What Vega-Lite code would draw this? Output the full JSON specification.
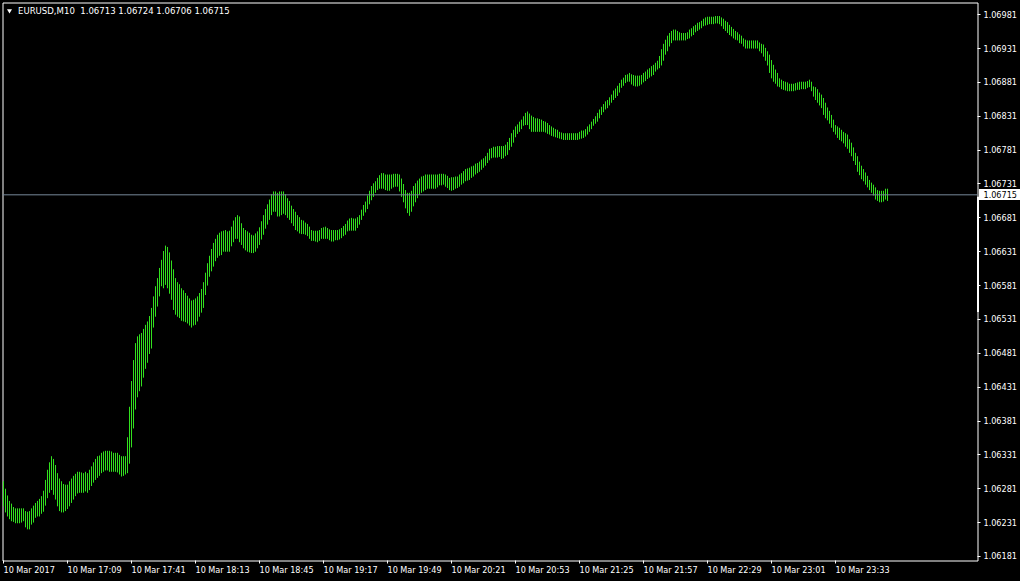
{
"$schema":"https://vega.github.io/schema/vega-lite/v6.json",
"width":975,"height":558,
"autosize":{"type":"none"},
"padding":{"left":2.5,"top":2.5,"right":42.5,"bottom":20.5},
"background":"#000000",
"resolve":{"axis":{"x":"independent","y":"independent"}},
"config":{
 "view":{"stroke":"#ffffff","strokeWidth":1,"fill":"#000000"},
 "axis":{"labelColor":"#ffffff","tickColor":"#ffffff","domain":false,"grid":false,"labelFont":"DejaVu Sans Condensed, DejaVu Sans, sans-serif","labelFontSize":9,"tickSize":3,"title":null,"translate":0,"labelOverlap":false,"labelBound":false,"labelFlush":false}
},
"layer":[
{
 "data":{"format":{"parse":{"t":"utc:'%H:%M'"}},"values":[
{"t":"16:37","lo":1.06255,"hi":1.06292},{"t":"16:38","lo":1.06246,"hi":1.06281},{"t":"16:39","lo":1.06240,"hi":1.06271},{"t":"16:40","lo":1.06236,"hi":1.06263},{"t":"16:41","lo":1.06233,"hi":1.06259},{"t":"16:42","lo":1.06232,"hi":1.06254},{"t":"16:43","lo":1.06230,"hi":1.06252},{"t":"16:44","lo":1.06230,"hi":1.06252},{"t":"16:45","lo":1.06230,"hi":1.06252},{"t":"16:46","lo":1.06231,"hi":1.06252},
{"t":"16:47","lo":1.06233,"hi":1.06252},{"t":"16:48","lo":1.06224,"hi":1.06248},{"t":"16:49","lo":1.06221,"hi":1.06247},{"t":"16:50","lo":1.06221,"hi":1.06248},{"t":"16:51","lo":1.06228,"hi":1.06252},{"t":"16:52","lo":1.06231,"hi":1.06256},{"t":"16:53","lo":1.06238,"hi":1.06260},{"t":"16:54","lo":1.06240,"hi":1.06263},{"t":"16:55","lo":1.06240,"hi":1.06266},{"t":"16:56","lo":1.06244,"hi":1.06270},
{"t":"16:57","lo":1.06247,"hi":1.06278},{"t":"16:58","lo":1.06256,"hi":1.06294},{"t":"16:59","lo":1.06267,"hi":1.06309},{"t":"17:00","lo":1.06275,"hi":1.06320},{"t":"17:01","lo":1.06279,"hi":1.06329},{"t":"17:02","lo":1.06272,"hi":1.06325},{"t":"17:03","lo":1.06265,"hi":1.06316},{"t":"17:04","lo":1.06255,"hi":1.06304},{"t":"17:05","lo":1.06248,"hi":1.06296},{"t":"17:06","lo":1.06246,"hi":1.06292},
{"t":"17:07","lo":1.06246,"hi":1.06288},{"t":"17:08","lo":1.06248,"hi":1.06287},{"t":"17:09","lo":1.06251,"hi":1.06287},{"t":"17:10","lo":1.06255,"hi":1.06292},{"t":"17:11","lo":1.06260,"hi":1.06296},{"t":"17:12","lo":1.06265,"hi":1.06300},{"t":"17:13","lo":1.06270,"hi":1.06303},{"t":"17:14","lo":1.06274,"hi":1.06306},{"t":"17:15","lo":1.06275,"hi":1.06306},{"t":"17:16","lo":1.06275,"hi":1.06305},
{"t":"17:17","lo":1.06275,"hi":1.06304},{"t":"17:18","lo":1.06277,"hi":1.06306},{"t":"17:19","lo":1.06275,"hi":1.06304},{"t":"17:20","lo":1.06279,"hi":1.06309},{"t":"17:21","lo":1.06285,"hi":1.06314},{"t":"17:22","lo":1.06290,"hi":1.06320},{"t":"17:23","lo":1.06294,"hi":1.06325},{"t":"17:24","lo":1.06297,"hi":1.06329},{"t":"17:25","lo":1.06300,"hi":1.06330},{"t":"17:26","lo":1.06304,"hi":1.06334},
{"t":"17:27","lo":1.06306,"hi":1.06336},{"t":"17:28","lo":1.06308,"hi":1.06337},{"t":"17:29","lo":1.06308,"hi":1.06337},{"t":"17:30","lo":1.06306,"hi":1.06337},{"t":"17:31","lo":1.06306,"hi":1.06336},{"t":"17:32","lo":1.06306,"hi":1.06334},{"t":"17:33","lo":1.06306,"hi":1.06334},{"t":"17:34","lo":1.06305,"hi":1.06334},{"t":"17:35","lo":1.06302,"hi":1.06331},{"t":"17:36","lo":1.06299,"hi":1.06329},
{"t":"17:37","lo":1.06300,"hi":1.06329},{"t":"17:38","lo":1.06302,"hi":1.06329},{"t":"17:39","lo":1.06304,"hi":1.06357},{"t":"17:40","lo":1.06318,"hi":1.06402},{"t":"17:41","lo":1.06342,"hi":1.06440},{"t":"17:42","lo":1.06370,"hi":1.06471},{"t":"17:43","lo":1.06398,"hi":1.06496},{"t":"17:44","lo":1.06416,"hi":1.06506},{"t":"17:45","lo":1.06425,"hi":1.06509},{"t":"17:46","lo":1.06432,"hi":1.06511},
{"t":"17:47","lo":1.06445,"hi":1.06517},{"t":"17:48","lo":1.06458,"hi":1.06523},{"t":"17:49","lo":1.06467,"hi":1.06528},{"t":"17:50","lo":1.06480,"hi":1.06536},{"t":"17:51","lo":1.06488,"hi":1.06548},{"t":"17:52","lo":1.06519,"hi":1.06565},{"t":"17:53","lo":1.06535,"hi":1.06580},{"t":"17:54","lo":1.06550,"hi":1.06592},{"t":"17:55","lo":1.06565,"hi":1.06607},{"t":"17:56","lo":1.06580,"hi":1.06619},
{"t":"17:57","lo":1.06577,"hi":1.06632},{"t":"17:58","lo":1.06582,"hi":1.06640},{"t":"17:59","lo":1.06577,"hi":1.06638},{"t":"18:00","lo":1.06569,"hi":1.06630},{"t":"18:01","lo":1.06560,"hi":1.06618},{"t":"18:02","lo":1.06545,"hi":1.06605},{"t":"18:03","lo":1.06538,"hi":1.06592},{"t":"18:04","lo":1.06535,"hi":1.06586},{"t":"18:05","lo":1.06533,"hi":1.06583},{"t":"18:06","lo":1.06529,"hi":1.06577},
{"t":"18:07","lo":1.06528,"hi":1.06574},{"t":"18:08","lo":1.06527,"hi":1.06570},{"t":"18:09","lo":1.06525,"hi":1.06566},{"t":"18:10","lo":1.06522,"hi":1.06562},{"t":"18:11","lo":1.06519,"hi":1.06559},{"t":"18:12","lo":1.06522,"hi":1.06560},{"t":"18:13","lo":1.06523,"hi":1.06562},{"t":"18:14","lo":1.06528,"hi":1.06565},{"t":"18:15","lo":1.06535,"hi":1.06570},{"t":"18:16","lo":1.06541,"hi":1.06576},
{"t":"18:17","lo":1.06548,"hi":1.06586},{"t":"18:18","lo":1.06567,"hi":1.06600},{"t":"18:19","lo":1.06581,"hi":1.06614},{"t":"18:20","lo":1.06594,"hi":1.06625},{"t":"18:21","lo":1.06602,"hi":1.06635},{"t":"18:22","lo":1.06609,"hi":1.06644},{"t":"18:23","lo":1.06617,"hi":1.06650},{"t":"18:24","lo":1.06622,"hi":1.06656},{"t":"18:25","lo":1.06625,"hi":1.06659},{"t":"18:26","lo":1.06626,"hi":1.06661},
{"t":"18:27","lo":1.06631,"hi":1.06662},{"t":"18:28","lo":1.06631,"hi":1.06663},{"t":"18:29","lo":1.06631,"hi":1.06661},{"t":"18:30","lo":1.06631,"hi":1.06662},{"t":"18:31","lo":1.06639,"hi":1.06668},{"t":"18:32","lo":1.06645,"hi":1.06677},{"t":"18:33","lo":1.06650,"hi":1.06682},{"t":"18:34","lo":1.06650,"hi":1.06685},{"t":"18:35","lo":1.06645,"hi":1.06683},{"t":"18:36","lo":1.06641,"hi":1.06673},
{"t":"18:37","lo":1.06636,"hi":1.06666},{"t":"18:38","lo":1.06633,"hi":1.06663},{"t":"18:39","lo":1.06631,"hi":1.06661},{"t":"18:40","lo":1.06630,"hi":1.06659},{"t":"18:41","lo":1.06629,"hi":1.06656},{"t":"18:42","lo":1.06629,"hi":1.06655},{"t":"18:43","lo":1.06631,"hi":1.06658},{"t":"18:44","lo":1.06636,"hi":1.06661},{"t":"18:45","lo":1.06641,"hi":1.06667},{"t":"18:46","lo":1.06649,"hi":1.06676},
{"t":"18:47","lo":1.06656,"hi":1.06685},{"t":"18:48","lo":1.06665,"hi":1.06694},{"t":"18:49","lo":1.06671,"hi":1.06701},{"t":"18:50","lo":1.06678,"hi":1.06708},{"t":"18:51","lo":1.06685,"hi":1.06716},{"t":"18:52","lo":1.06690,"hi":1.06720},{"t":"18:53","lo":1.06690,"hi":1.06720},{"t":"18:54","lo":1.06683,"hi":1.06718},{"t":"18:55","lo":1.06683,"hi":1.06720},{"t":"18:56","lo":1.06685,"hi":1.06720},
{"t":"18:57","lo":1.06687,"hi":1.06720},{"t":"18:58","lo":1.06685,"hi":1.06716},{"t":"18:59","lo":1.06681,"hi":1.06710},{"t":"19:00","lo":1.06678,"hi":1.06706},{"t":"19:01","lo":1.06673,"hi":1.06699},{"t":"19:02","lo":1.06669,"hi":1.06694},{"t":"19:03","lo":1.06663,"hi":1.06690},{"t":"19:04","lo":1.06661,"hi":1.06685},{"t":"19:05","lo":1.06658,"hi":1.06682},{"t":"19:06","lo":1.06657,"hi":1.06678},
{"t":"19:07","lo":1.06657,"hi":1.06677},{"t":"19:08","lo":1.06656,"hi":1.06674},{"t":"19:09","lo":1.06654,"hi":1.06672},{"t":"19:10","lo":1.06650,"hi":1.06668},{"t":"19:11","lo":1.06647,"hi":1.06663},{"t":"19:12","lo":1.06647,"hi":1.06662},{"t":"19:13","lo":1.06646,"hi":1.06662},{"t":"19:14","lo":1.06645,"hi":1.06662},{"t":"19:15","lo":1.06647,"hi":1.06663},{"t":"19:16","lo":1.06650,"hi":1.06666},
{"t":"19:17","lo":1.06650,"hi":1.06667},{"t":"19:18","lo":1.06650,"hi":1.06668},{"t":"19:19","lo":1.06650,"hi":1.06666},{"t":"19:20","lo":1.06648,"hi":1.06664},{"t":"19:21","lo":1.06646,"hi":1.06663},{"t":"19:22","lo":1.06646,"hi":1.06663},{"t":"19:23","lo":1.06648,"hi":1.06663},{"t":"19:24","lo":1.06648,"hi":1.06663},{"t":"19:25","lo":1.06649,"hi":1.06664},{"t":"19:26","lo":1.06651,"hi":1.06666},
{"t":"19:27","lo":1.06654,"hi":1.06669},{"t":"19:28","lo":1.06656,"hi":1.06672},{"t":"19:29","lo":1.06661,"hi":1.06677},{"t":"19:30","lo":1.06662,"hi":1.06680},{"t":"19:31","lo":1.06662,"hi":1.06681},{"t":"19:32","lo":1.06662,"hi":1.06680},{"t":"19:33","lo":1.06662,"hi":1.06680},{"t":"19:34","lo":1.06666,"hi":1.06682},{"t":"19:35","lo":1.06671,"hi":1.06685},{"t":"19:36","lo":1.06678,"hi":1.06693},
{"t":"19:37","lo":1.06684,"hi":1.06700},{"t":"19:38","lo":1.06689,"hi":1.06705},{"t":"19:39","lo":1.06694,"hi":1.06714},{"t":"19:40","lo":1.06701,"hi":1.06721},{"t":"19:41","lo":1.06707,"hi":1.06728},{"t":"19:42","lo":1.06712,"hi":1.06732},{"t":"19:43","lo":1.06718,"hi":1.06735},{"t":"19:44","lo":1.06722,"hi":1.06740},{"t":"19:45","lo":1.06724,"hi":1.06744},{"t":"19:46","lo":1.06724,"hi":1.06747},
{"t":"19:47","lo":1.06724,"hi":1.06747},{"t":"19:48","lo":1.06722,"hi":1.06745},{"t":"19:49","lo":1.06721,"hi":1.06745},{"t":"19:50","lo":1.06721,"hi":1.06745},{"t":"19:51","lo":1.06724,"hi":1.06745},{"t":"19:52","lo":1.06726,"hi":1.06746},{"t":"19:53","lo":1.06727,"hi":1.06746},{"t":"19:54","lo":1.06727,"hi":1.06746},{"t":"19:55","lo":1.06720,"hi":1.06745},{"t":"19:56","lo":1.06712,"hi":1.06739},
{"t":"19:57","lo":1.06704,"hi":1.06731},{"t":"19:58","lo":1.06695,"hi":1.06722},{"t":"19:59","lo":1.06688,"hi":1.06718},{"t":"20:00","lo":1.06684,"hi":1.06718},{"t":"20:01","lo":1.06690,"hi":1.06721},{"t":"20:02","lo":1.06698,"hi":1.06728},{"t":"20:03","lo":1.06704,"hi":1.06732},{"t":"20:04","lo":1.06710,"hi":1.06736},{"t":"20:05","lo":1.06715,"hi":1.06739},{"t":"20:06","lo":1.06718,"hi":1.06742},
{"t":"20:07","lo":1.06720,"hi":1.06743},{"t":"20:08","lo":1.06722,"hi":1.06745},{"t":"20:09","lo":1.06724,"hi":1.06745},{"t":"20:10","lo":1.06724,"hi":1.06745},{"t":"20:11","lo":1.06724,"hi":1.06745},{"t":"20:12","lo":1.06724,"hi":1.06745},{"t":"20:13","lo":1.06724,"hi":1.06745},{"t":"20:14","lo":1.06726,"hi":1.06745},{"t":"20:15","lo":1.06729,"hi":1.06746},{"t":"20:16","lo":1.06729,"hi":1.06746},
{"t":"20:17","lo":1.06730,"hi":1.06746},{"t":"20:18","lo":1.06727,"hi":1.06745},{"t":"20:19","lo":1.06725,"hi":1.06743},{"t":"20:20","lo":1.06722,"hi":1.06740},{"t":"20:21","lo":1.06721,"hi":1.06741},{"t":"20:22","lo":1.06722,"hi":1.06741},{"t":"20:23","lo":1.06724,"hi":1.06742},{"t":"20:24","lo":1.06725,"hi":1.06742},{"t":"20:25","lo":1.06727,"hi":1.06745},{"t":"20:26","lo":1.06730,"hi":1.06747},
{"t":"20:27","lo":1.06732,"hi":1.06750},{"t":"20:28","lo":1.06735,"hi":1.06753},{"t":"20:29","lo":1.06736,"hi":1.06754},{"t":"20:30","lo":1.06737,"hi":1.06755},{"t":"20:31","lo":1.06740,"hi":1.06757},{"t":"20:32","lo":1.06742,"hi":1.06758},{"t":"20:33","lo":1.06745,"hi":1.06761},{"t":"20:34","lo":1.06747,"hi":1.06762},{"t":"20:35","lo":1.06749,"hi":1.06764},{"t":"20:36","lo":1.06752,"hi":1.06767},
{"t":"20:37","lo":1.06755,"hi":1.06769},{"t":"20:38","lo":1.06758,"hi":1.06772},{"t":"20:39","lo":1.06762,"hi":1.06777},{"t":"20:40","lo":1.06766,"hi":1.06783},{"t":"20:41","lo":1.06769,"hi":1.06784},{"t":"20:42","lo":1.06770,"hi":1.06786},{"t":"20:43","lo":1.06770,"hi":1.06786},{"t":"20:44","lo":1.06770,"hi":1.06787},{"t":"20:45","lo":1.06771,"hi":1.06787},{"t":"20:46","lo":1.06768,"hi":1.06787},
{"t":"20:47","lo":1.06769,"hi":1.06787},{"t":"20:48","lo":1.06772,"hi":1.06789},{"t":"20:49","lo":1.06774,"hi":1.06793},{"t":"20:50","lo":1.06781,"hi":1.06799},{"t":"20:51","lo":1.06786,"hi":1.06806},{"t":"20:52","lo":1.06792,"hi":1.06811},{"t":"20:53","lo":1.06800,"hi":1.06816},{"t":"20:54","lo":1.06805,"hi":1.06819},{"t":"20:55","lo":1.06808,"hi":1.06823},{"t":"20:56","lo":1.06812,"hi":1.06826},
{"t":"20:57","lo":1.06817,"hi":1.06831},{"t":"20:58","lo":1.06818,"hi":1.06836},{"t":"20:59","lo":1.06818,"hi":1.06838},{"t":"21:00","lo":1.06812,"hi":1.06835},{"t":"21:01","lo":1.06808,"hi":1.06832},{"t":"21:02","lo":1.06808,"hi":1.06830},{"t":"21:03","lo":1.06808,"hi":1.06828},{"t":"21:04","lo":1.06808,"hi":1.06828},{"t":"21:05","lo":1.06808,"hi":1.06827},{"t":"21:06","lo":1.06808,"hi":1.06826},
{"t":"21:07","lo":1.06808,"hi":1.06824},{"t":"21:08","lo":1.06807,"hi":1.06823},{"t":"21:09","lo":1.06805,"hi":1.06821},{"t":"21:10","lo":1.06804,"hi":1.06818},{"t":"21:11","lo":1.06802,"hi":1.06816},{"t":"21:12","lo":1.06801,"hi":1.06814},{"t":"21:13","lo":1.06800,"hi":1.06812},{"t":"21:14","lo":1.06799,"hi":1.06811},{"t":"21:15","lo":1.06798,"hi":1.06808},{"t":"21:16","lo":1.06797,"hi":1.06807},
{"t":"21:17","lo":1.06796,"hi":1.06806},{"t":"21:18","lo":1.06796,"hi":1.06806},{"t":"21:19","lo":1.06796,"hi":1.06806},{"t":"21:20","lo":1.06796,"hi":1.06806},{"t":"21:21","lo":1.06796,"hi":1.06806},{"t":"21:22","lo":1.06796,"hi":1.06806},{"t":"21:23","lo":1.06796,"hi":1.06806},{"t":"21:24","lo":1.06796,"hi":1.06806},{"t":"21:25","lo":1.06797,"hi":1.06808},{"t":"21:26","lo":1.06798,"hi":1.06810},
{"t":"21:27","lo":1.06799,"hi":1.06810},{"t":"21:28","lo":1.06801,"hi":1.06812},{"t":"21:29","lo":1.06804,"hi":1.06816},{"t":"21:30","lo":1.06808,"hi":1.06819},{"t":"21:31","lo":1.06812,"hi":1.06823},{"t":"21:32","lo":1.06817,"hi":1.06827},{"t":"21:33","lo":1.06820,"hi":1.06831},{"t":"21:34","lo":1.06823,"hi":1.06836},{"t":"21:35","lo":1.06828,"hi":1.06841},{"t":"21:36","lo":1.06833,"hi":1.06845},
{"t":"21:37","lo":1.06837,"hi":1.06849},{"t":"21:38","lo":1.06841,"hi":1.06853},{"t":"21:39","lo":1.06843,"hi":1.06855},{"t":"21:40","lo":1.06847,"hi":1.06859},{"t":"21:41","lo":1.06851,"hi":1.06863},{"t":"21:42","lo":1.06855,"hi":1.06869},{"t":"21:43","lo":1.06858,"hi":1.06872},{"t":"21:44","lo":1.06861,"hi":1.06876},{"t":"21:45","lo":1.06866,"hi":1.06880},{"t":"21:46","lo":1.06873,"hi":1.06885},
{"t":"21:47","lo":1.06876,"hi":1.06888},{"t":"21:48","lo":1.06880,"hi":1.06892},{"t":"21:49","lo":1.06882,"hi":1.06893},{"t":"21:50","lo":1.06882,"hi":1.06895},{"t":"21:51","lo":1.06878,"hi":1.06893},{"t":"21:52","lo":1.06876,"hi":1.06892},{"t":"21:53","lo":1.06875,"hi":1.06891},{"t":"21:54","lo":1.06875,"hi":1.06891},{"t":"21:55","lo":1.06876,"hi":1.06891},{"t":"21:56","lo":1.06878,"hi":1.06892},
{"t":"21:57","lo":1.06881,"hi":1.06895},{"t":"21:58","lo":1.06883,"hi":1.06897},{"t":"21:59","lo":1.06886,"hi":1.06900},{"t":"22:00","lo":1.06888,"hi":1.06902},{"t":"22:01","lo":1.06890,"hi":1.06905},{"t":"22:02","lo":1.06892,"hi":1.06907},{"t":"22:03","lo":1.06897,"hi":1.06910},{"t":"22:04","lo":1.06900,"hi":1.06913},{"t":"22:05","lo":1.06902,"hi":1.06920},{"t":"22:06","lo":1.06906,"hi":1.06930},
{"t":"22:07","lo":1.06913,"hi":1.06938},{"t":"22:08","lo":1.06922,"hi":1.06944},{"t":"22:09","lo":1.06927,"hi":1.06950},{"t":"22:10","lo":1.06934,"hi":1.06954},{"t":"22:11","lo":1.06939,"hi":1.06957},{"t":"22:12","lo":1.06943,"hi":1.06959},{"t":"22:13","lo":1.06943,"hi":1.06959},{"t":"22:14","lo":1.06943,"hi":1.06957},{"t":"22:15","lo":1.06943,"hi":1.06955},{"t":"22:16","lo":1.06943,"hi":1.06954},
{"t":"22:17","lo":1.06943,"hi":1.06954},{"t":"22:18","lo":1.06943,"hi":1.06954},{"t":"22:19","lo":1.06945,"hi":1.06955},{"t":"22:20","lo":1.06946,"hi":1.06959},{"t":"22:21","lo":1.06949,"hi":1.06961},{"t":"22:22","lo":1.06951,"hi":1.06964},{"t":"22:23","lo":1.06955,"hi":1.06966},{"t":"22:24","lo":1.06957,"hi":1.06969},{"t":"22:25","lo":1.06959,"hi":1.06970},{"t":"22:26","lo":1.06961,"hi":1.06972},
{"t":"22:27","lo":1.06964,"hi":1.06975},{"t":"22:28","lo":1.06965,"hi":1.06977},{"t":"22:29","lo":1.06966,"hi":1.06978},{"t":"22:30","lo":1.06967,"hi":1.06978},{"t":"22:31","lo":1.06967,"hi":1.06978},{"t":"22:32","lo":1.06967,"hi":1.06978},{"t":"22:33","lo":1.06968,"hi":1.06979},{"t":"22:34","lo":1.06968,"hi":1.06979},{"t":"22:35","lo":1.06967,"hi":1.06979},{"t":"22:36","lo":1.06964,"hi":1.06977},
{"t":"22:37","lo":1.06960,"hi":1.06975},{"t":"22:38","lo":1.06957,"hi":1.06972},{"t":"22:39","lo":1.06954,"hi":1.06970},{"t":"22:40","lo":1.06951,"hi":1.06966},{"t":"22:41","lo":1.06949,"hi":1.06963},{"t":"22:42","lo":1.06946,"hi":1.06960},{"t":"22:43","lo":1.06944,"hi":1.06957},{"t":"22:44","lo":1.06943,"hi":1.06955},{"t":"22:45","lo":1.06939,"hi":1.06952},{"t":"22:46","lo":1.06938,"hi":1.06950},
{"t":"22:47","lo":1.06934,"hi":1.06946},{"t":"22:48","lo":1.06931,"hi":1.06944},{"t":"22:49","lo":1.06931,"hi":1.06943},{"t":"22:50","lo":1.06931,"hi":1.06943},{"t":"22:51","lo":1.06931,"hi":1.06943},{"t":"22:52","lo":1.06931,"hi":1.06943},{"t":"22:53","lo":1.06931,"hi":1.06943},{"t":"22:54","lo":1.06931,"hi":1.06943},{"t":"22:55","lo":1.06927,"hi":1.06940},{"t":"22:56","lo":1.06924,"hi":1.06938},
{"t":"22:57","lo":1.06919,"hi":1.06937},{"t":"22:58","lo":1.06913,"hi":1.06932},{"t":"22:59","lo":1.06906,"hi":1.06927},{"t":"23:00","lo":1.06895,"hi":1.06922},{"t":"23:01","lo":1.06887,"hi":1.06914},{"t":"23:02","lo":1.06882,"hi":1.06907},{"t":"23:03","lo":1.06879,"hi":1.06900},{"t":"23:04","lo":1.06875,"hi":1.06895},{"t":"23:05","lo":1.06874,"hi":1.06887},{"t":"23:06","lo":1.06871,"hi":1.06885},
{"t":"23:07","lo":1.06870,"hi":1.06883},{"t":"23:08","lo":1.06869,"hi":1.06882},{"t":"23:09","lo":1.06868,"hi":1.06881},{"t":"23:10","lo":1.06868,"hi":1.06879},{"t":"23:11","lo":1.06868,"hi":1.06879},{"t":"23:12","lo":1.06868,"hi":1.06879},{"t":"23:13","lo":1.06869,"hi":1.06880},{"t":"23:14","lo":1.06870,"hi":1.06881},{"t":"23:15","lo":1.06870,"hi":1.06882},{"t":"23:16","lo":1.06871,"hi":1.06882},
{"t":"23:17","lo":1.06871,"hi":1.06882},{"t":"23:18","lo":1.06871,"hi":1.06882},{"t":"23:19","lo":1.06873,"hi":1.06883},{"t":"23:20","lo":1.06874,"hi":1.06885},{"t":"23:21","lo":1.06868,"hi":1.06882},{"t":"23:22","lo":1.06860,"hi":1.06875},{"t":"23:23","lo":1.06855,"hi":1.06874},{"t":"23:24","lo":1.06851,"hi":1.06871},{"t":"23:25","lo":1.06847,"hi":1.06866},{"t":"23:26","lo":1.06843,"hi":1.06863},
{"t":"23:27","lo":1.06833,"hi":1.06858},{"t":"23:28","lo":1.06828,"hi":1.06851},{"t":"23:29","lo":1.06825,"hi":1.06844},{"t":"23:30","lo":1.06820,"hi":1.06839},{"t":"23:31","lo":1.06814,"hi":1.06833},{"t":"23:32","lo":1.06808,"hi":1.06826},{"t":"23:33","lo":1.06804,"hi":1.06818},{"t":"23:34","lo":1.06799,"hi":1.06816},{"t":"23:35","lo":1.06796,"hi":1.06814},{"t":"23:36","lo":1.06794,"hi":1.06811},
{"t":"23:37","lo":1.06791,"hi":1.06808},{"t":"23:38","lo":1.06786,"hi":1.06806},{"t":"23:39","lo":1.06783,"hi":1.06804},{"t":"23:40","lo":1.06777,"hi":1.06797},{"t":"23:41","lo":1.06772,"hi":1.06792},{"t":"23:42","lo":1.06765,"hi":1.06785},{"t":"23:43","lo":1.06759,"hi":1.06777},{"t":"23:44","lo":1.06749,"hi":1.06772},{"t":"23:45","lo":1.06744,"hi":1.06764},{"t":"23:46","lo":1.06738,"hi":1.06758},
{"t":"23:47","lo":1.06735,"hi":1.06753},{"t":"23:48","lo":1.06730,"hi":1.06748},{"t":"23:49","lo":1.06726,"hi":1.06743},{"t":"23:50","lo":1.06722,"hi":1.06737},{"t":"23:51","lo":1.06718,"hi":1.06733},{"t":"23:52","lo":1.06714,"hi":1.06730},{"t":"23:53","lo":1.06708,"hi":1.06726},{"t":"23:54","lo":1.06706,"hi":1.06722},{"t":"23:55","lo":1.06704,"hi":1.06721},{"t":"23:56","lo":1.06704,"hi":1.06721},
{"t":"23:57","lo":1.06705,"hi":1.06721},{"t":"23:58","lo":1.06708,"hi":1.06724},{"t":"23:59","lo":1.06706,"hi":1.06724}
 ]},
 "mark":{"type":"rule","color":"#32e01e","strokeWidth":1},
 "encoding":{
  "x":{"field":"t","type":"temporal","title":null,
   "scale":{"type":"utc","nice":false,"domain":[{"year":1900,"month":1,"date":1,"hours":16,"minutes":36,"seconds":30,"utc":true},{"year":1900,"month":1,"date":2,"hours":0,"minutes":44,"utc":true}]},
   "axis":{"orient":"bottom","title":null,"labelAlign":"left","labelBaseline":"top","labelPadding":2,"labelOverlap":false,"labelFlush":false,
    "values":[{"year":1900,"month":1,"date":1,"hours":16,"minutes":37,"utc":true},{"year":1900,"month":1,"date":1,"hours":17,"minutes":9,"utc":true},{"year":1900,"month":1,"date":1,"hours":17,"minutes":41,"utc":true},{"year":1900,"month":1,"date":1,"hours":18,"minutes":13,"utc":true},{"year":1900,"month":1,"date":1,"hours":18,"minutes":45,"utc":true},{"year":1900,"month":1,"date":1,"hours":19,"minutes":17,"utc":true},{"year":1900,"month":1,"date":1,"hours":19,"minutes":49,"utc":true},{"year":1900,"month":1,"date":1,"hours":20,"minutes":21,"utc":true},{"year":1900,"month":1,"date":1,"hours":20,"minutes":53,"utc":true},{"year":1900,"month":1,"date":1,"hours":21,"minutes":25,"utc":true},{"year":1900,"month":1,"date":1,"hours":21,"minutes":57,"utc":true},{"year":1900,"month":1,"date":1,"hours":22,"minutes":29,"utc":true},{"year":1900,"month":1,"date":1,"hours":23,"minutes":1,"utc":true},{"year":1900,"month":1,"date":1,"hours":23,"minutes":33,"utc":true}],
    "labelExpr":"utcFormat(datum.value, '%H:%M') == '16:37' ? '10 Mar 2017' : '10 Mar ' + utcFormat(datum.value, '%H:%M')"}},
  "y":{"field":"lo","type":"quantitative","title":null,
   "scale":{"domain":[1.06175,1.06999],"zero":false,"nice":false},
   "axis":{"orient":"right","title":null,"format":".5f","labelPadding":3,"labelBaseline":"middle","labelOverlap":false,"labelFlush":false,"labelSeparation":0,
    "values":[1.06181,1.06231,1.06281,1.06331,1.06381,1.06431,1.06481,1.06531,1.06581,1.06631,1.06681,1.06731,1.06781,1.06831,1.06881,1.06931,1.06981]}},
  "y2":{"field":"hi"}
 }
},
{
 "data":{"values":[{"price":1.06715}]},
 "mark":{"type":"rule","color":"#778899","strokeWidth":1},
 "encoding":{"y":{"field":"price","type":"quantitative","axis":null,"scale":{"domain":[1.06175,1.06999],"zero":false,"nice":false}}}
},
{
 "data":{"values":[{"top":1.06712,"bottom":1.06542}]},
 "mark":{"type":"rect","color":"#ffffff"},
 "encoding":{
  "x":{"datum":{"year":1900,"month":1,"date":2,"hours":0,"minutes":43,"seconds":45,"utc":true},"type":"temporal","axis":null,"scale":{"type":"utc","nice":false,"domain":[{"year":1900,"month":1,"date":1,"hours":16,"minutes":36,"seconds":30,"utc":true},{"year":1900,"month":1,"date":2,"hours":0,"minutes":44,"utc":true}]}},
  "x2":{"datum":{"year":1900,"month":1,"date":2,"hours":0,"minutes":44,"seconds":45,"utc":true}},
  "y":{"field":"top","type":"quantitative","axis":null,"scale":{"domain":[1.06175,1.06999],"zero":false,"nice":false}},
  "y2":{"field":"bottom"}
 }
},
{
 "data":{"values":[{"price":1.06715,"top":1.067236,"bottom":1.067074,"label":"1.06715"}]},
 "layer":[
  {"mark":{"type":"rect","color":"#ffffff"},
   "encoding":{
    "x":{"datum":{"year":1900,"month":1,"date":2,"hours":0,"minutes":44,"seconds":45,"utc":true},"type":"temporal","axis":null,"scale":{"type":"utc","nice":false,"domain":[{"year":1900,"month":1,"date":1,"hours":16,"minutes":36,"seconds":30,"utc":true},{"year":1900,"month":1,"date":2,"hours":0,"minutes":44,"utc":true}]}},
    "x2":{"datum":{"year":1900,"month":1,"date":2,"hours":1,"minutes":5,"seconds":15,"utc":true}},
    "y":{"field":"top","type":"quantitative","axis":null,"scale":{"domain":[1.06175,1.06999],"zero":false,"nice":false}},
    "y2":{"field":"bottom"}}},
  {"mark":{"type":"text","color":"#000000","align":"left","baseline":"middle","font":"DejaVu Sans Condensed, DejaVu Sans, sans-serif","fontSize":9},
   "encoding":{
    "x":{"datum":{"year":1900,"month":1,"date":2,"hours":0,"minutes":47,"utc":true},"type":"temporal","axis":null,"scale":{"type":"utc","nice":false,"domain":[{"year":1900,"month":1,"date":1,"hours":16,"minutes":36,"seconds":30,"utc":true},{"year":1900,"month":1,"date":2,"hours":0,"minutes":44,"utc":true}]}},
    "y":{"field":"price","type":"quantitative","axis":null,"scale":{"domain":[1.06175,1.06999],"zero":false,"nice":false}},
    "text":{"field":"label"}}}
 ]
},
{
 "data":{"values":[{"info":"EURUSD,M10\u00a0 1.06713 1.06724 1.06706 1.06715","ty":1.06986,"ly":1.06982}]},
 "layer":[
  {"mark":{"type":"point","shape":"triangle-down","filled":true,"color":"#ffffff","opacity":1,"size":25,"strokeWidth":0},
   "encoding":{
    "x":{"datum":{"year":1900,"month":1,"date":1,"hours":16,"minutes":40,"utc":true},"type":"temporal","axis":null,"scale":{"type":"utc","nice":false,"domain":[{"year":1900,"month":1,"date":1,"hours":16,"minutes":36,"seconds":30,"utc":true},{"year":1900,"month":1,"date":2,"hours":0,"minutes":44,"utc":true}]}},
    "y":{"field":"ty","type":"quantitative","axis":null,"scale":{"domain":[1.06175,1.06999],"zero":false,"nice":false}}}},
  {"mark":{"type":"text","color":"#ffffff","align":"left","baseline":"alphabetic","font":"DejaVu Sans Condensed, DejaVu Sans, sans-serif","fontSize":9.5},
   "encoding":{
    "x":{"datum":{"year":1900,"month":1,"date":1,"hours":16,"minutes":44,"seconds":15,"utc":true},"type":"temporal","axis":null,"scale":{"type":"utc","nice":false,"domain":[{"year":1900,"month":1,"date":1,"hours":16,"minutes":36,"seconds":30,"utc":true},{"year":1900,"month":1,"date":2,"hours":0,"minutes":44,"utc":true}]}},
    "y":{"field":"ly","type":"quantitative","axis":null,"scale":{"domain":[1.06175,1.06999],"zero":false,"nice":false}},
    "text":{"field":"info"}}}
 ]
}
]
}
